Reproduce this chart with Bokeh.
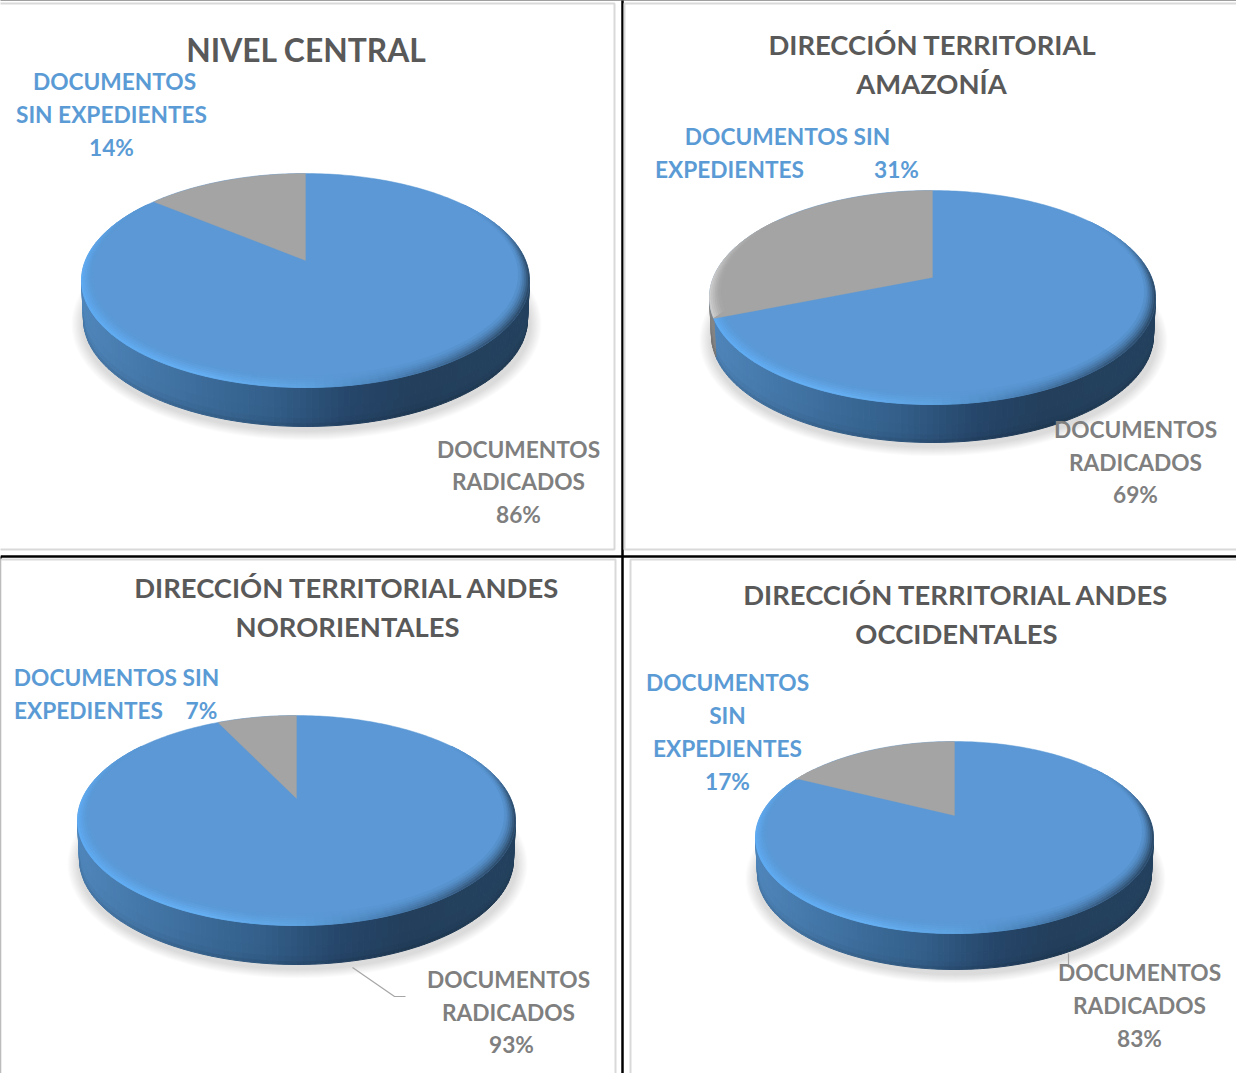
import numpy as np
from bokeh.plotting import figure
from bokeh.embed import file_html
from bokeh.resources import INLINE
from bokeh.core.properties import value

# ---- data ----
panel_names = ["NIVEL CENTRAL", "AMAZONÍA", "ANDES NORORIENTALES", "ANDES OCCIDENTALES"]
docs_radicados = [86, 69, 93, 83]
docs_sin_expedientes = [14, 31, 7, 17]
title_lines = [
    ["NIVEL CENTRAL"],
    ["DIRECCIÓN TERRITORIAL", "AMAZONÍA"],
    ["DIRECCIÓN TERRITORIAL ANDES", "NORORIENTALES"],
    ["DIRECCIÓN TERRITORIAL ANDES", "OCCIDENTALES"],
]
sin_label_lines = [
    ["DOCUMENTOS", "SIN EXPEDIENTES"],
    ["DOCUMENTOS SIN", "EXPEDIENTES"],
    ["DOCUMENTOS SIN", "EXPEDIENTES"],
    ["DOCUMENTOS", "SIN", "EXPEDIENTES"],
]
rad_label_lines = ["DOCUMENTOS", "RADICADOS"]

# ---- layout (page pixels of the picture) ----
pies = [
    dict(cx=313, cy=288, rx=224, ry=107, depth=39, ax=313, ay=268),
    dict(cx=940, cy=305, rx=223, ry=107, depth=38, ax=940, ay=285),
    dict(cx=304, cy=828, rx=219, ry=105, depth=39, ax=304, ay=806),
    dict(cx=962, cy=845, rx=199, ry=96, depth=36, ax=962, ay=823),
]
boxes = [(5, 622, 11, 557), (632, 1247, 11, 557), (8, 623, 567, 1086), (638, 1250, 567, 1086)]
black_lines = [([0, 1252], [7, 7]), ([630, 630], [7, 1089]), ([8, 1252], [564, 564]), ([8, 8], [564, 1089])]
title_pos = [[(314, 57)], [(940, 52), (939, 91)], [(355, 595), (355, 634)], [(964, 602), (964, 641)]]
sin_pos = [
    [(122, 89), (119, 122), (119, 155)],
    [(795, 144), (737, 177), (904, 177)],
    [(124, 685), (96, 718), (209, 718)],
    [(735, 690), (735, 723), (735, 756), (735, 789)],
]
rad_pos = [
    [(526, 457), (526, 489), (526, 522)],
    [(1143, 437), (1143, 470), (1143, 502)],
    [(516, 987), (516, 1020), (519, 1052)],
    [(1147, 980), (1147, 1013), (1147, 1046)],
]
leaders = [([360, 402, 413], [975, 1004, 1004]), ([1076, 1076], [961, 975])]

FONT = "Lato"
BLUE = np.array([91, 152, 213.0])
GRAY = np.array([164, 164, 164.0])


def hexc(c):
    c = np.clip(c, 0, 255).astype(int)
    return "#%02x%02x%02x" % tuple(c)


def hx(s):
    return np.array([int(s[i:i + 2], 16) for i in (1, 3, 5)], dtype=float)


def ramp(f, stops):
    fs = [a for a, _ in stops]
    cols = np.array([hx(b) for _, b in stops])
    return np.array([np.interp(f, fs, cols[:, i]) for i in range(3)])


WALL = [(-1, "#4f86bb"), (-0.55, "#3f70a0"), (-0.15, "#335f8a"), (0.2, "#26466a"), (0.5, "#233f5c"), (1, "#24425f")]
RIM = [(-1, "#5fabf2"), (-0.45, "#66b0f4"), (0, "#5fa4e2"), (0.4, "#4a80b5"), (0.8, "#36597d"), (1, "#2d4b69")]


def warp(theta):
    """True pie angle -> angle on the drawn ellipse (perspective of the 3-D pie)."""
    return 2 * np.arctan(0.83 * np.tan(theta / 2))


p = figure(width=1236, height=1073, x_range=(8, 1244), y_range=(1081, 8),
           output_backend="svg", toolbar_location=None, min_border=0)
p.axis.visible = False
p.grid.visible = False
p.outline_line_color = None
p.background_fill_color = "white"

# frame
for xs, ys in black_lines:
    p.line(xs, ys, line_color="black", line_width=2.5)
for x0, x1, y0, y1 in boxes:
    p.quad(left=x0, right=x1, top=y0, bottom=y1, fill_color="white",
           line_color="#d9d9d9", line_width=2)

for i, g in enumerate(pies):
    cx, cy, rx, ry, d = g["cx"], g["cy"], g["rx"], g["ry"], g["depth"]
    share = docs_sin_expedientes[i] / (docs_radicados[i] + docs_sin_expedientes[i])
    t_edge = warp(2 * np.pi * share)   # ellipse angle, counted anticlockwise from the top

    # soft shadow
    for k in range(9):
        grow = 11 - k * 1.3
        p.ellipse(x=cx + 1, y=cy + d + 5, width=2 * (rx + grow), height=2 * (ry + grow * 0.8),
                  fill_color="black", fill_alpha=0.0155, line_color=None)

    # side wall: slices of the rim between the top and bottom ellipses
    N = 110
    phis = np.linspace(np.pi / 2, 3 * np.pi / 2, N + 1)
    bands = [(0, 0.55, 1.0), (0.55, 0.8, 0.99), (0.8, 0.93, 0.96), (0.93, 1.0, 0.9)]
    wx, wy, wc = [], [], []
    for a, b in zip(phis[:-1], phis[1:]):
        m = 0.5 * (a + b)
        f = np.sin(m)
        in_gray = m > 2 * np.pi - t_edge
        base = ramp(f, WALL) if not in_gray else np.array([132, 132, 132.0])
        for v0, v1, sh in bands:
            def pt(ang, v):
                r = rx - 2 * v
                return cx + r * np.sin(ang), cy + d * v - ry * np.cos(ang)
            P = [pt(a, v0), pt(b, v0), pt(b, v1), pt(a, v1)]
            wx.append([q[0] for q in P])
            wy.append([q[1] for q in P])
            wc.append(hexc(base * sh))
    p.patches(wx, wy, fill_color=wc, line_color=wc, line_width=1)

    # top face
    t = np.linspace(0, 2 * np.pi, 361)
    p.patch(cx + rx * np.sin(t), cy - ry * np.cos(t), fill_color=hexc(BLUE), line_color=hexc(BLUE), line_width=0.5)

    # bevel along the rim: blue part, then the gray slice, then its own bevel
    K, M = 6, 150
    tt = np.linspace(0, 2 * np.pi, M + 1)
    bx, by, bc, hx_, hy_, hc_ = [], [], [], [], [], []
    for k in range(K):
        s0, s1 = k / K, (k + 1) / K
        for a, b in zip(tt[:-1], tt[1:]):
            m = 0.5 * (a + b)
            f, yy = np.sin(m), -np.cos(m)
            w = np.clip((yy + 0.75) / 0.65, 0, 1)
            w = w * w * (3 - 2 * w)
            strength = w * (1 - s0) ** 1.4
            if strength < 0.015:
                continue
            in_gray = m > 2 * np.pi - t_edge
            rim = ramp(f, RIM) if not in_gray else np.array([205, 205, 205.0])
            top = GRAY if in_gray else BLUE
            col = hexc(top + (rim - top) * strength)

            def pt(ang, s):
                return cx + (rx - 11 * s) * np.sin(ang), (cy - 6 * s) - (ry - 6 * s) * np.cos(ang)
            P = [pt(a, s0), pt(b, s0), pt(b, s1), pt(a, s1)]
            (hx_ if in_gray else bx).append([q[0] for q in P])
            (hy_ if in_gray else by).append([q[1] for q in P])
            (hc_ if in_gray else bc).append(col)
    p.patches(bx, by, fill_color=bc, line_color=bc, line_width=0.8)

    tg = np.linspace(-t_edge, 0, 80)
    gx = np.concatenate([[g["ax"]], cx + rx * np.sin(tg)])
    gy = np.concatenate([[g["ay"]], cy - ry * np.cos(tg)])
    p.patch(gx, gy, fill_color=hexc(GRAY), line_color=hexc(GRAY), line_width=0.3)
    if hx_:
        p.patches(hx_, hy_, fill_color=hc_, line_color=hc_, line_width=0.8)

# leader lines
for xs, ys in leaders:
    p.line(xs, ys, line_color="#a6a6a6", line_width=1.2)


def put(x, y, txt, size, color):
    p.text([x], [y], text=[txt], text_font=value(FONT), text_font_style="bold",
           text_font_size=size, text_color=color, text_align="center", text_baseline="middle")


for i in range(4):
    for (x, y), s in zip(title_pos[i], title_lines[i]):
        put(x, y, s, "31.8px" if i == 0 else "27.4px", "#595959")
    for (x, y), s in zip(sin_pos[i], sin_label_lines[i] + [f"{docs_sin_expedientes[i]}%"]):
        put(x, y, s, "22.7px", "#5b9bd5")
    for (x, y), s in zip(rad_pos[i], rad_label_lines + [f"{docs_radicados[i]}%"]):
        put(x, y, s, "22.7px", "#7f7f7f")

open("out.html", "w").write(file_html(p, INLINE))
